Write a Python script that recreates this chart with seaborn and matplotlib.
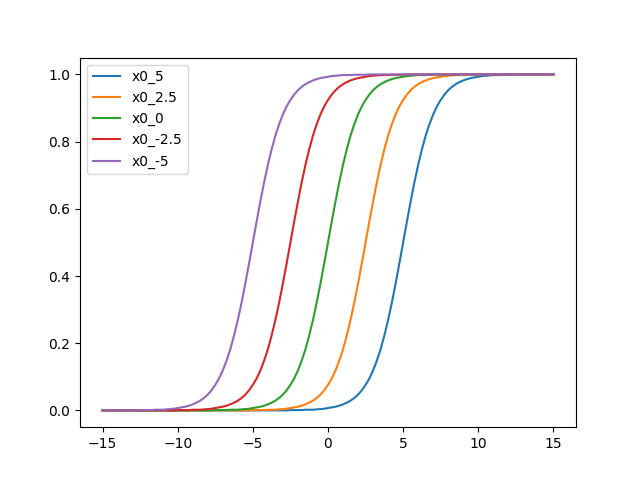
import matplotlib
matplotlib.use("Agg")
import matplotlib.pyplot as plt
import seaborn as sns
import numpy as np

# x positions read along the axis, -15 .. 15 in steps of 0.25
x = np.arange(-15, 15.001, 0.25)

labels = ["x0_5", "x0_2.5", "x0_0", "x0_-2.5", "x0_-5"]

y_5 = [0.0, 0.0, 0.0, 0.0, 0.0, 0.0, 0.0, 0.0, 0.0, 0.0,
       0.0, 0.0, 0.0, 0.0, 0.0, 0.0, 0.0, 0.0, 0.0, 0.0,
       0.0, 0.0, 0.0, 0.0, 0.0, 0.0, 0.0, 0.0, 0.0, 0.0,
       0.0, 0.0, 0.0, 0.0, 0.0, 0.0, 0.0, 0.0, 0.0, 0.0,
       0.0, 0.0, 0.0, 0.0, 0.0, 0.0, 0.0, 0.0, 0.0, 0.0,
       0.001, 0.001, 0.001, 0.001, 0.002, 0.002, 0.002, 0.003, 0.004, 0.005,
       0.007, 0.009, 0.011, 0.014, 0.018, 0.023, 0.029, 0.037, 0.047, 0.060,
       0.076, 0.095, 0.119, 0.148, 0.182, 0.223, 0.269, 0.321, 0.378, 0.438,
       0.5,
       0.562, 0.622, 0.679, 0.731, 0.777, 0.818, 0.852, 0.881, 0.905, 0.924,
       0.940, 0.953, 0.963, 0.971, 0.977, 0.982, 0.986, 0.989, 0.991, 0.993,
       0.995, 0.996, 0.997, 0.998, 0.998, 0.998, 0.999, 0.999, 0.999, 0.999,
       1.0, 1.0, 1.0, 1.0, 1.0, 1.0, 1.0, 1.0, 1.0, 1.0]

y_2_5 = [0.0, 0.0, 0.0, 0.0, 0.0, 0.0, 0.0, 0.0, 0.0, 0.0,
         0.0, 0.0, 0.0, 0.0, 0.0, 0.0, 0.0, 0.0, 0.0, 0.0,
         0.0, 0.0, 0.0, 0.0, 0.0, 0.0, 0.0, 0.0, 0.0, 0.0,
         0.0, 0.0, 0.0, 0.0, 0.0, 0.0, 0.0, 0.0, 0.0, 0.0,
         0.001, 0.001, 0.001, 0.001, 0.002, 0.002, 0.002, 0.003, 0.004, 0.005,
         0.007, 0.009, 0.011, 0.014, 0.018, 0.023, 0.029, 0.037, 0.047, 0.060,
         0.076, 0.095, 0.119, 0.148, 0.182, 0.223, 0.269, 0.321, 0.378, 0.438,
         0.5,
         0.562, 0.622, 0.679, 0.731, 0.777, 0.818, 0.852, 0.881, 0.905, 0.924,
         0.940, 0.953, 0.963, 0.971, 0.977, 0.982, 0.986, 0.989, 0.991, 0.993,
         0.995, 0.996, 0.997, 0.998, 0.998, 0.998, 0.999, 0.999, 0.999, 0.999,
         1.0, 1.0, 1.0, 1.0, 1.0, 1.0, 1.0, 1.0, 1.0, 1.0,
         1.0, 1.0, 1.0, 1.0, 1.0, 1.0, 1.0, 1.0, 1.0, 1.0]

y_0 = [0.0, 0.0, 0.0, 0.0, 0.0, 0.0, 0.0, 0.0, 0.0, 0.0,
       0.0, 0.0, 0.0, 0.0, 0.0, 0.0, 0.0, 0.0, 0.0, 0.0,
       0.0, 0.0, 0.0, 0.0, 0.0, 0.0, 0.0, 0.0, 0.0, 0.0,
       0.001, 0.001, 0.001, 0.001, 0.002, 0.002, 0.002, 0.003, 0.004, 0.005,
       0.007, 0.009, 0.011, 0.014, 0.018, 0.023, 0.029, 0.037, 0.047, 0.060,
       0.076, 0.095, 0.119, 0.148, 0.182, 0.223, 0.269, 0.321, 0.378, 0.438,
       0.5,
       0.562, 0.622, 0.679, 0.731, 0.777, 0.818, 0.852, 0.881, 0.905, 0.924,
       0.940, 0.953, 0.963, 0.971, 0.977, 0.982, 0.986, 0.989, 0.991, 0.993,
       0.995, 0.996, 0.997, 0.998, 0.998, 0.998, 0.999, 0.999, 0.999, 0.999,
       1.0, 1.0, 1.0, 1.0, 1.0, 1.0, 1.0, 1.0, 1.0, 1.0,
       1.0, 1.0, 1.0, 1.0, 1.0, 1.0, 1.0, 1.0, 1.0, 1.0,
       1.0, 1.0, 1.0, 1.0, 1.0, 1.0, 1.0, 1.0, 1.0, 1.0]

y_m2_5 = [0.0, 0.0, 0.0, 0.0, 0.0, 0.0, 0.0, 0.0, 0.0, 0.0,
          0.0, 0.0, 0.0, 0.0, 0.0, 0.0, 0.0, 0.0, 0.0, 0.0,
          0.001, 0.001, 0.001, 0.001, 0.002, 0.002, 0.002, 0.003, 0.004, 0.005,
          0.007, 0.009, 0.011, 0.014, 0.018, 0.023, 0.029, 0.037, 0.047, 0.060,
          0.076, 0.095, 0.119, 0.148, 0.182, 0.223, 0.269, 0.321, 0.378, 0.438,
          0.5,
          0.562, 0.622, 0.679, 0.731, 0.777, 0.818, 0.852, 0.881, 0.905, 0.924,
          0.940, 0.953, 0.963, 0.971, 0.977, 0.982, 0.986, 0.989, 0.991, 0.993,
          0.995, 0.996, 0.997, 0.998, 0.998, 0.998, 0.999, 0.999, 0.999, 0.999,
          1.0, 1.0, 1.0, 1.0, 1.0, 1.0, 1.0, 1.0, 1.0, 1.0,
          1.0, 1.0, 1.0, 1.0, 1.0, 1.0, 1.0, 1.0, 1.0, 1.0,
          1.0, 1.0, 1.0, 1.0, 1.0, 1.0, 1.0, 1.0, 1.0, 1.0,
          1.0, 1.0, 1.0, 1.0, 1.0, 1.0, 1.0, 1.0, 1.0, 1.0]

y_m5 = [0.0, 0.0, 0.0, 0.0, 0.0, 0.0, 0.0, 0.0, 0.0, 0.0,
        0.001, 0.001, 0.001, 0.001, 0.002, 0.002, 0.002, 0.003, 0.004, 0.005,
        0.007, 0.009, 0.011, 0.014, 0.018, 0.023, 0.029, 0.037, 0.047, 0.060,
        0.076, 0.095, 0.119, 0.148, 0.182, 0.223, 0.269, 0.321, 0.378, 0.438,
        0.5,
        0.562, 0.622, 0.679, 0.731, 0.777, 0.818, 0.852, 0.881, 0.905, 0.924,
        0.940, 0.953, 0.963, 0.971, 0.977, 0.982, 0.986, 0.989, 0.991, 0.993,
        0.995, 0.996, 0.997, 0.998, 0.998, 0.998, 0.999, 0.999, 0.999, 0.999,
        1.0, 1.0, 1.0, 1.0, 1.0, 1.0, 1.0, 1.0, 1.0, 1.0,
        1.0, 1.0, 1.0, 1.0, 1.0, 1.0, 1.0, 1.0, 1.0, 1.0,
        1.0, 1.0, 1.0, 1.0, 1.0, 1.0, 1.0, 1.0, 1.0, 1.0,
        1.0, 1.0, 1.0, 1.0, 1.0, 1.0, 1.0, 1.0, 1.0, 1.0,
        1.0, 1.0, 1.0, 1.0, 1.0, 1.0, 1.0, 1.0, 1.0, 1.0]

series = [y_5, y_2_5, y_0, y_m2_5, y_m5]
colors = sns.color_palette("tab10", 5)

fig, ax = plt.subplots(figsize=(6.4, 4.8), dpi=100)
for lab, ys, c in zip(labels, series, colors):
    sns.lineplot(x=x, y=ys, label=lab, color=c, ax=ax, linewidth=1.5)

ax.legend(loc="upper left")
plt.savefig("out.png", dpi=100)
